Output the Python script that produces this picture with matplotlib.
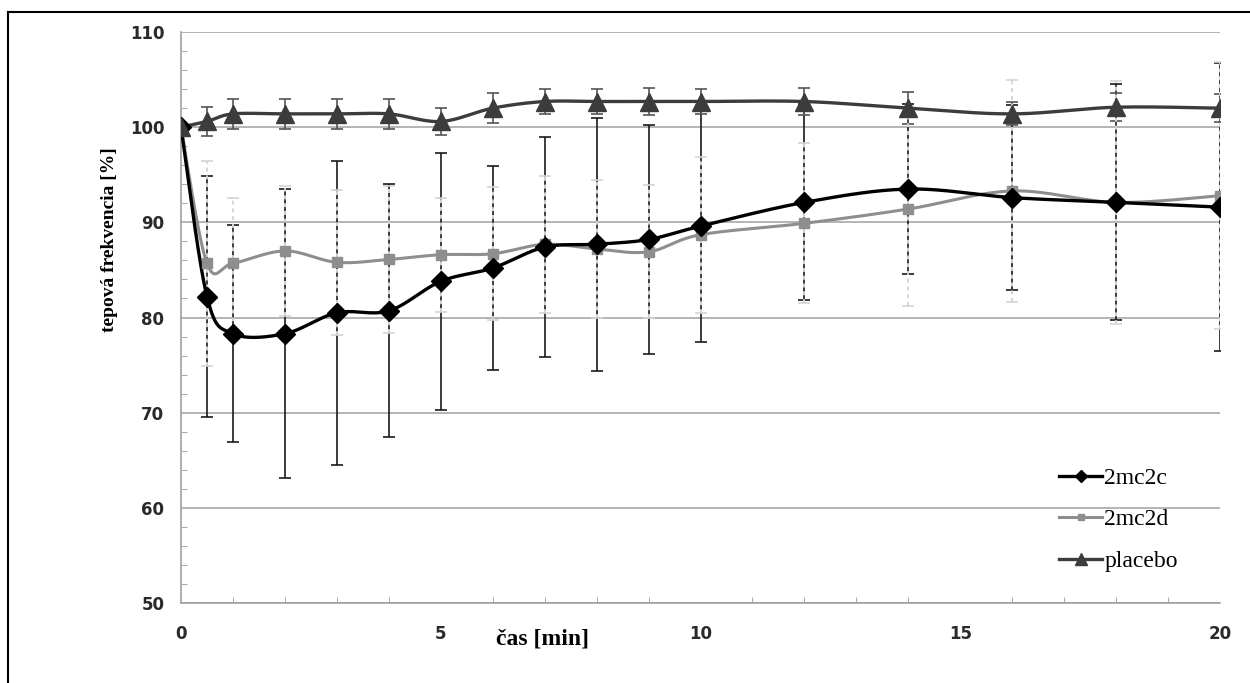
import numpy as np
import matplotlib
matplotlib.use("Agg")
from matplotlib import pyplot as plt
from matplotlib.lines import Line2D

# casove body merania [min]
cas = [0, 0.5, 1, 2, 3, 4, 5, 6, 7, 8, 9, 10, 12, 14, 16, 18, 20]

# priemerne hodnoty [%]
mc2c = [100, 82.2, 78.3, 78.3, 80.5, 80.7, 83.8, 85.2, 87.4, 87.7, 88.2, 89.6, 92.1, 93.5, 92.6, 92.1, 91.6]
mc2d = [100, 85.7, 85.7, 87.0, 85.8, 86.1, 86.6, 86.7, 87.7, 87.2, 86.9, 88.7, 89.9, 91.4, 93.3, 92.1, 92.8]
placebo = [100, 100.6, 101.4, 101.4, 101.4, 101.4, 100.6, 102.0, 102.7, 102.7, 102.7, 102.7, 102.7, 102.0, 101.4, 102.1, 102.0]

# smerodajne odchylky
sd_mc2c = [0, 12.7, 11.4, 15.2, 16.0, 13.3, 13.5, 10.7, 11.6, 13.3, 12.0, 12.2, 10.3, 8.9, 9.7, 12.4, 15.1]
sd_mc2d = [0, 10.8, 6.9, 6.8, 7.6, 7.7, 6.0, 7.0, 7.2, 7.3, 7.0, 8.2, 8.4, 10.2, 11.7, 12.8, 14.0]
sd_placebo = [0, 1.5, 1.6, 1.6, 1.6, 1.6, 1.4, 1.6, 1.3, 1.3, 1.4, 1.3, 1.4, 1.7, 1.2, 1.5, 1.5]


def smooth(x, y, n=30):
    # vyhladena ciara ako v Exceli (Catmull-Rom / Bezier)
    x = np.asarray(x, float)
    y = np.asarray(y, float)
    px = np.concatenate([[x[0]], x, [x[-1]]])
    py = np.concatenate([[y[0]], y, [y[-1]]])
    t = np.linspace(0, 1, n)
    xs, ys = [], []
    for i in range(1, len(px) - 2):
        x0, x1, x2, x3 = px[i - 1], px[i], px[i + 1], px[i + 2]
        y0, y1, y2, y3 = py[i - 1], py[i], py[i + 1], py[i + 2]
        c1x, c1y = x1 + (x2 - x0) / 6, y1 + (y2 - y0) / 6
        c2x, c2y = x2 - (x3 - x1) / 6, y2 - (y3 - y1) / 6
        b0 = (1 - t) ** 3
        b1 = 3 * (1 - t) ** 2 * t
        b2 = 3 * (1 - t) * t ** 2
        b3 = t ** 3
        xs.append(b0 * x1 + b1 * c1x + b2 * c2x + b3 * x2)
        ys.append(b0 * y1 + b1 * c1y + b2 * c2y + b3 * y2)
    return np.concatenate(xs), np.concatenate(ys)


fig = plt.figure(figsize=(12.5, 6.83), dpi=100)
ax = fig.add_axes([0.1448, 0.1171, 0.8312, 0.836])

c_black = "#000000"
c_gray = "#8e8e8e"
c_dark = "#3c3c3c"

# chybove useky
ax.errorbar(cas, mc2c, yerr=sd_mc2c, fmt="none", ecolor="#1a1a1a", elinewidth=1.2, capsize=4, capthick=1.2, zorder=2)
ax.errorbar(cas, placebo, yerr=sd_placebo, fmt="none", ecolor="#555555", elinewidth=1.2, capsize=4, capthick=1.2, zorder=2)
eb = ax.errorbar(cas, mc2d, yerr=sd_mc2d, fmt="none", ecolor="#d4d4d4", elinewidth=1.4, capsize=4, capthick=1.2, zorder=3)
eb[2][0].set_linestyle((0, (2, 2)))

# ciary
for y, col, lw in [(mc2d, c_gray, 2.2), (mc2c, c_black, 2.4), (placebo, c_dark, 2.4)]:
    sx, sy = smooth(cas, y)
    ax.plot(sx, sy, color=col, lw=lw, zorder=4, solid_capstyle="round")

ax.plot(cas, mc2d, ls="none", marker="s", ms=7, color=c_gray, zorder=5)
ax.plot(cas, mc2c, ls="none", marker="D", ms=10, color=c_black, zorder=5)
ax.plot(cas, placebo, ls="none", marker="^", ms=13, color=c_dark, zorder=6)

handles = [
    Line2D([], [], color=c_black, lw=2.4, marker="D", ms=6),
    Line2D([], [], color=c_gray, lw=2.2, marker="s", ms=4.5),
    Line2D([], [], color=c_dark, lw=2.4, marker="^", ms=9),
]
ax.legend(handles, ["2mc2c", "2mc2d", "placebo"], loc="upper left", bbox_to_anchor=(0.825, 0.275),
          frameon=False, handlelength=1.8, handletextpad=0.1, labelspacing=0.85,
          prop={"family": "Liberation Serif", "size": 17})

ax.set_xlim(0, 20)
ax.set_ylim(50, 110)
ax.set_xticks([0, 5, 10, 15, 20])
ax.set_xticks(range(0, 21), minor=True)
ax.set_yticks(range(50, 111, 10))
ax.set_yticks(range(50, 111, 2), minor=True)
ax.yaxis.grid(True, which="major", color="#a8a8a8", lw=1.2)
ax.set_axisbelow(True)
ax.tick_params(axis="both", which="major", length=0, labelsize=12, labelcolor="#2a2a2a")
ax.tick_params(axis="x", which="major", pad=16)
ax.tick_params(axis="y", which="major", pad=12)
ax.tick_params(axis="both", which="minor", direction="in", length=4, color="#999999")
for lab in ax.get_xticklabels() + ax.get_yticklabels():
    lab.set_fontweight("bold")

for s in ["top", "right"]:
    ax.spines[s].set_visible(False)
for s in ["left", "bottom"]:
    ax.spines[s].set_color("#a0a0a0")
    ax.spines[s].set_linewidth(1.2)

ax.set_xlabel("čas [min]", family="Liberation Serif", fontweight="bold", fontsize=17)
ax.xaxis.set_label_coords(0.348, -0.045)
ax.set_ylabel("tepová frekvencia [%]", family="Liberation Serif", fontweight="bold", fontsize=14)
ax.yaxis.set_label_coords(-0.061, 0.636)

# ramcek okolo obrazka
fig.add_artist(Line2D([0.0064, 1.0], [0.9824, 0.9824], color="black", lw=1.5))
fig.add_artist(Line2D([0.0064, 0.0064], [0.0, 0.9824], color="black", lw=1.5))

plt.savefig("out.png", dpi=100)
